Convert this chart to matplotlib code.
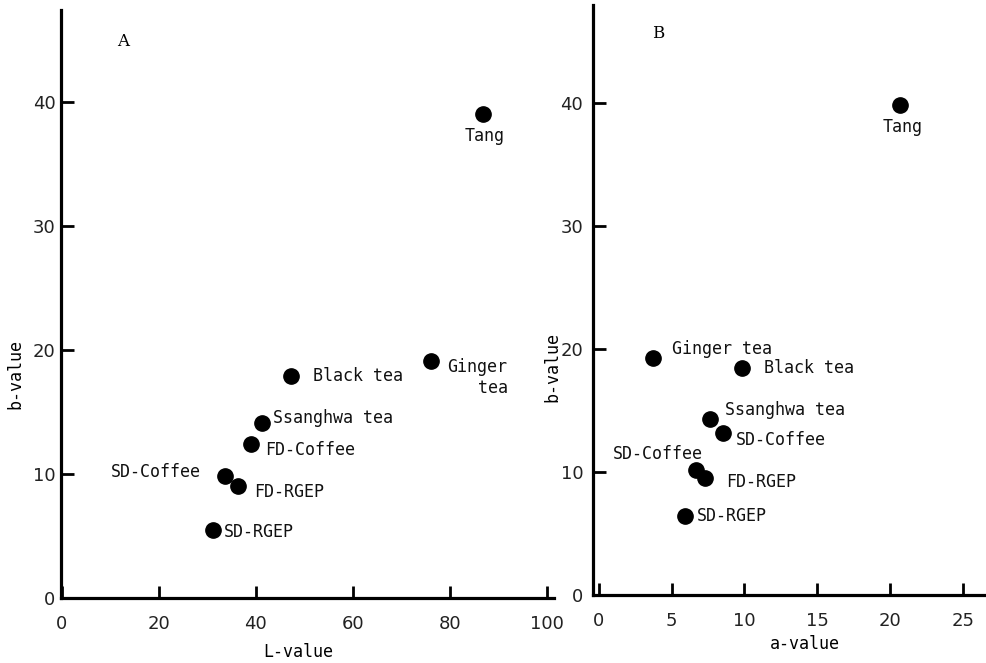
import matplotlib
matplotlib.use("Agg")
import matplotlib.pyplot as plt

# ---- data ----
names_A = ["Tang", "Ginger\ntea", "Black tea", "Ssanghwa tea", "FD-Coffee",
           "SD-Coffee", "FD-RGEP", "SD-RGEP"]
L_value = [86.8, 76.1, 47.2, 41.2, 39.0, 33.6, 36.3, 31.1]
b_value_A = [39.0, 19.1, 17.9, 14.1, 12.4, 9.8, 9.0, 5.5]

names_B = ["Tang", "Ginger tea", "Black tea", "Ssanghwa tea", "SD-Coffee",
           "SD-Coffee", "FD-RGEP", "SD-RGEP"]
a_value = [20.7, 3.7, 9.8, 7.6, 8.5, 6.7, 7.3, 5.9]
b_value_B = [39.9, 19.3, 18.5, 14.3, 13.2, 10.2, 9.5, 6.4]

xticks_A = [0, 20, 40, 60, 80, 100]
xticks_B = [0, 5, 10, 15, 20, 25]
yticks = [0, 10, 20, 30, 40]

# ---- label placement (offsets in points) ----
off_A = [(1.5, -16, "center", "center"), (12, 2.5, "left", "top"),
         (16, 0, "left", "center"), (8, 4, "left", "center"),
         (10, -4, "left", "center"), (-17, 3, "right", "center"),
         (12, -4, "left", "center"), (8, -1.5, "left", "center")]
off_B = [(1.5, -16.5, "center", "center"), (14, 6, "left", "center"),
         (16, 0, "left", "center"), (11, 6.5, "left", "center"),
         (9.5, -5, "left", "center"), (4.5, 11, "right", "center"),
         (15, -3, "left", "center"), (8.5, 0, "left", "center")]

W, H = 987, 663
fig = plt.figure(figsize=(W / 100, H / 100), dpi=100)

MONO = "DejaVu Sans Mono"
TICKFONT = ["Liberation Sans Narrow", "DejaVu Sans"]


def px_rect(l, r, b, t):
    return [l / W, 1 - b / H, (r - l) / W, (b - t) / H]


def style(ax, xticks):
    for s in ["top", "right"]:
        ax.spines[s].set_visible(False)
    for s in ["left", "bottom"]:
        ax.spines[s].set_linewidth(2.3)
    ax.set_xticks(xticks)
    ax.set_yticks(yticks)
    ax.tick_params(direction="in", width=2, length=9, labelsize=13)
    ax.tick_params(axis="x", pad=12)
    for lab in ax.get_xticklabels() + ax.get_yticklabels():
        lab.set_family(TICKFONT)
        lab.set_color("#222222")
    ax.set_facecolor("none")


axA = fig.add_axes(px_rect(61, 554, 598, 10))
axA.plot(L_value, b_value_A, "o", color="black", ms=11, clip_on=False)
axA.set_xlim(-0.2, 101.5)
axA.set_ylim(0, 47.4)
style(axA, xticks_A)
axA.tick_params(axis="y", pad=4)
for n, x, y, (dx, dy, ha, va) in zip(names_A, L_value, b_value_A, off_A):
    axA.annotate(n, (x, y), xytext=(dx, dy), textcoords="offset points",
                 ha=ha, va=va, family=MONO, fontsize=12, color="#111111",
                 multialignment="right", linespacing=1.25)

axB = fig.add_axes(px_rect(593, 987, 595, 5))
axB.plot(a_value, b_value_B, "o", color="black", ms=11, clip_on=False)
axB.set_xlim(-0.4, 26.65)
axB.set_ylim(0, 48)
style(axB, xticks_B)
axB.tick_params(axis="y", pad=7)
for n, x, y, (dx, dy, ha, va) in zip(names_B, a_value, b_value_B, off_B):
    axB.annotate(n, (x, y), xytext=(dx, dy), textcoords="offset points",
                 ha=ha, va=va, family=MONO, fontsize=12, color="#111111")


def ftext(x, y, s, **kw):
    fig.text(x / W, 1 - y / H, s, ha="center", va="center", **kw)


ftext(298, 652, "L-value", family=MONO, fontsize=12)
ftext(805, 644, "a-value", family=MONO, fontsize=12)
ftext(15, 374, "b-value", family=MONO, fontsize=12, rotation=90)
ftext(552, 367, "b-value", family=MONO, fontsize=12, rotation=90)
ftext(123, 42, "A", family="DejaVu Serif", fontsize=12)
ftext(658, 33, "B", family="DejaVu Serif", fontsize=12)

fig.savefig("out.png", dpi=100)
